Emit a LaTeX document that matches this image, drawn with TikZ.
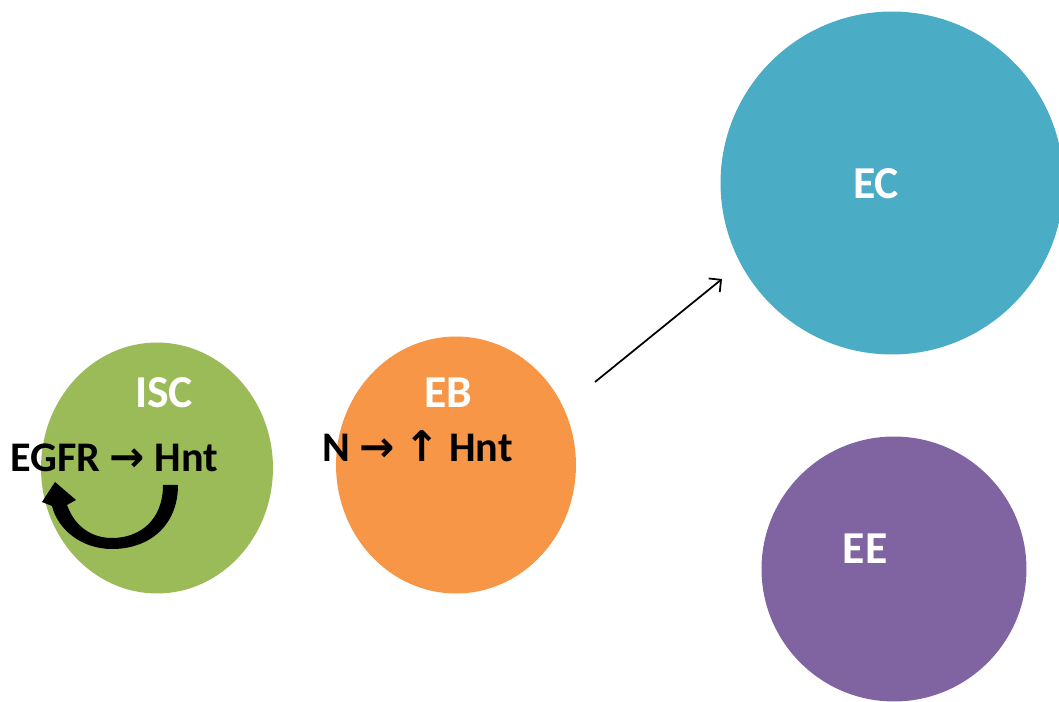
\documentclass[tikz,border=0pt]{standalone}
\usepackage{fontspec}
\setmainfont{Carlito}
\newfontfamily\arrowfont{DejaVu Sans}
\usetikzlibrary{shapes.geometric, arrows.meta}

\definecolor{iscgreen}{HTML}{9BBB59}
\definecolor{eborange}{HTML}{F79646}
\definecolor{ecblue}{HTML}{4BACC6}
\definecolor{eepurple}{HTML}{8064A2}

\newcommand{\rarr}{{\arrowfont →}}
\newcommand{\uarr}{{\arrowfont ↑}}

\begin{document}
\begin{tikzpicture}[x=0.02cm, y=-0.02cm,
    cell/.style={ellipse, inner sep=0pt},
    celllabel/.style={anchor=base, text=white, font=\bfseries\fontsize{26}{30}\selectfont},
    marker/.style={anchor=base west, inner xsep=0pt, text=black, font=\bfseries\fontsize{24}{28}\selectfont}]
  \useasboundingbox (0,0) rectangle (1059,702);

  % 1. the four cells
  \node[cell, fill=iscgreen, minimum width=4.64cm, minimum height=5.02cm] (isc) at (157,468) {};
  \node[cell, fill=eborange, minimum width=4.80cm, minimum height=5.14cm] (eb) at (456,465) {};
  \node[cell, fill=ecblue, minimum width=6.86cm, minimum height=6.86cm] (ec) at (892,183) {};
  \node[cell, fill=eepurple, minimum width=5.30cm, minimum height=5.30cm] (ee) at (894,569) {};

  % 2. names of the cells
  \node[celllabel] (isclab) at (164,408) {ISC};
  \node[celllabel] (eblab) at (448,408) {EB};
  \node[celllabel] (eclab) at (876,199) {EC};
  \node[celllabel] (eelab) at (865,564) {EE};

  % 3. signalling inside ISC and EB
  \node[marker] (egfr) at (10,472) {EGFR \rarr{} Hnt};
  \node[marker] (notch) at (322,462) {N \rarr{} \uarr{} Hnt};

  % 4. feedback loop from Hnt back to EGFR
  \fill[black] (178,485) .. controls (178,525) and (150,549) .. (112,549)
    .. controls (82,549) and (58,530) .. (52,506)
    -- (42,502) -- (55,482) -- (76,500) -- (67,505)
    .. controls (75,527) and (92,538) .. (112,538)
    .. controls (140,538) and (163,520) .. (163,485) -- cycle;

  % 5. differentiation towards EC
  \coordinate (ebout) at (595,382);
  \coordinate (ecin) at (722,279);
  \draw[line width=1pt, -{Straight Barb[length=5pt, width=10pt]}] (ebout) -- (ecin);
\end{tikzpicture}
\end{document}
